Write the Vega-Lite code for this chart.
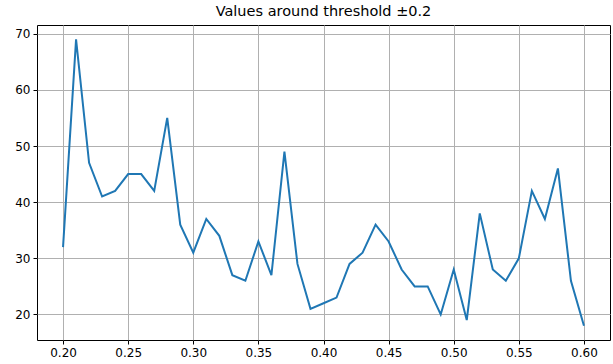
{
  "$schema": "https://vega.github.io/schema/vega-lite/v6.json",
  "width": 573,
  "height": 315,
  "autosize": {"type": "none"},
  "padding": {"left": 37, "top": 25, "right": 3, "bottom": 24},
  "background": "white",
  "title": {"text": "Values around threshold ±0.2", "font": "DejaVu Sans", "fontSize": 14.5, "fontWeight": "normal", "color": "black", "offset": 6, "anchor": "middle"},
  "config": {
    "view": {"stroke": "black", "strokeWidth": 1},
    "axis": {"labelFont": "DejaVu Sans", "labelFontSize": 12, "labelColor": "black", "tickColor": "black", "tickSize": 4, "labelPadding": 3, "gridColor": "#b0b0b0", "gridWidth": 1, "domain": false, "title": null}
  },
  "data": {"values": [
    {"x": 0.20, "y": 32}, {"x": 0.21, "y": 69}, {"x": 0.22, "y": 47}, {"x": 0.23, "y": 41},
    {"x": 0.24, "y": 42}, {"x": 0.25, "y": 45}, {"x": 0.26, "y": 45}, {"x": 0.27, "y": 42},
    {"x": 0.28, "y": 55}, {"x": 0.29, "y": 36}, {"x": 0.30, "y": 31}, {"x": 0.31, "y": 37},
    {"x": 0.32, "y": 34}, {"x": 0.33, "y": 27}, {"x": 0.34, "y": 26}, {"x": 0.35, "y": 33},
    {"x": 0.36, "y": 27}, {"x": 0.37, "y": 49}, {"x": 0.38, "y": 29}, {"x": 0.39, "y": 21},
    {"x": 0.40, "y": 22}, {"x": 0.41, "y": 23}, {"x": 0.42, "y": 29}, {"x": 0.43, "y": 31},
    {"x": 0.44, "y": 36}, {"x": 0.45, "y": 33}, {"x": 0.46, "y": 28}, {"x": 0.47, "y": 25},
    {"x": 0.48, "y": 25}, {"x": 0.49, "y": 20}, {"x": 0.50, "y": 28}, {"x": 0.51, "y": 19},
    {"x": 0.52, "y": 38}, {"x": 0.53, "y": 28}, {"x": 0.54, "y": 26}, {"x": 0.55, "y": 30},
    {"x": 0.56, "y": 42}, {"x": 0.57, "y": 37}, {"x": 0.58, "y": 46}, {"x": 0.59, "y": 26},
    {"x": 0.60, "y": 18}
  ]},
  "mark": {"type": "line", "color": "#1f77b4", "strokeWidth": 2},
  "encoding": {
    "x": {"field": "x", "type": "quantitative", "scale": {"domain": [0.18, 0.62], "nice": false, "zero": false},
          "axis": {"values": [0.2, 0.25, 0.3, 0.35, 0.4, 0.45, 0.5, 0.55, 0.6], "format": ".2f"}},
    "y": {"field": "y", "type": "quantitative", "scale": {"domain": [15.45, 71.55], "nice": false, "zero": false},
          "axis": {"values": [20, 30, 40, 50, 60, 70]}}
  }
}
